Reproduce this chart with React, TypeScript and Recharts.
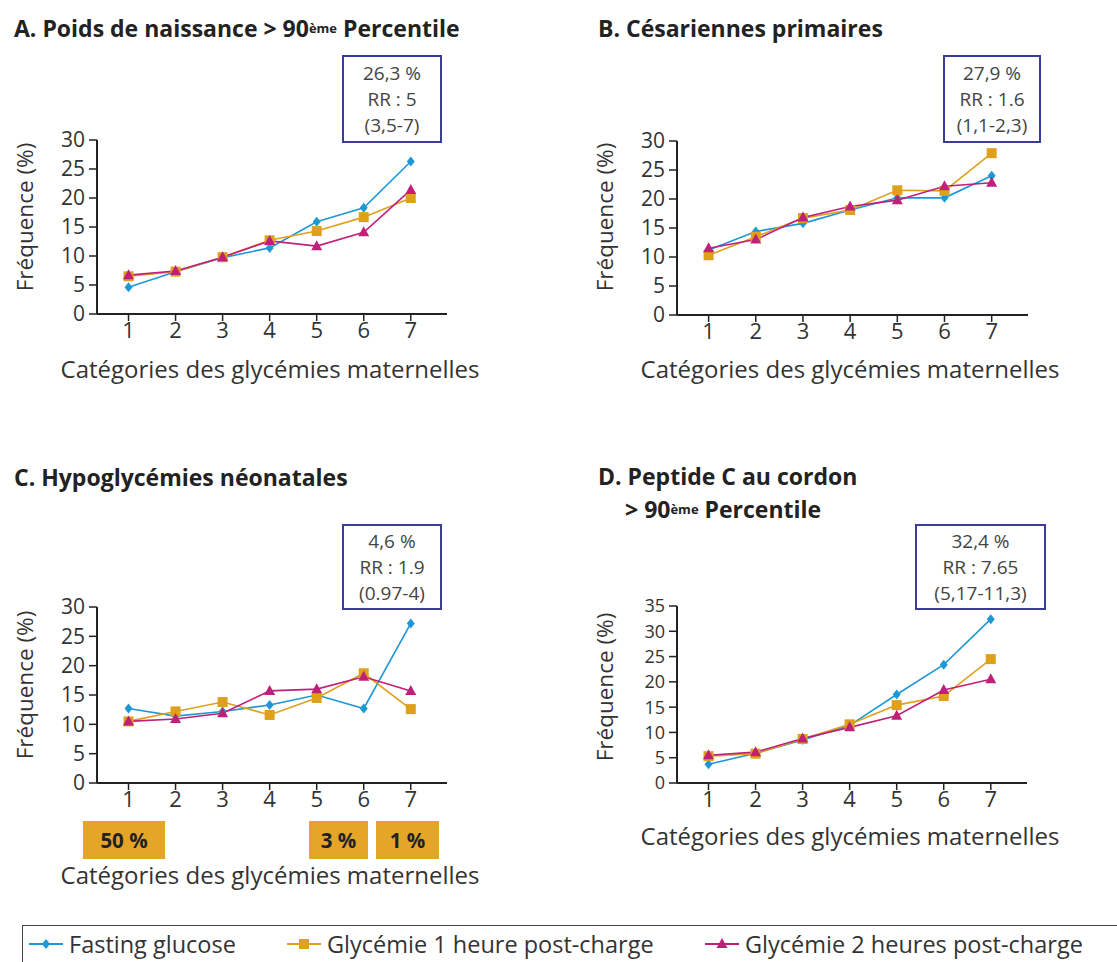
import React from "react";
import { LineChart, Line, XAxis, YAxis } from "recharts";

const categories = [1, 2, 3, 4, 5, 6, 7];

const aFasting = [4.6, 7.3, 9.7, 11.4, 15.9, 18.3, 26.3];
const a1h = [6.5, 7.3, 9.8, 12.7, 14.3, 16.7, 20.0];
const a2h = [6.7, 7.4, 9.8, 12.6, 11.7, 14.1, 21.4];

const bFasting = [11.2, 14.4, 15.8, 18.1, 20.2, 20.2, 24.0];
const b1h = [10.3, 13.5, 16.7, 18.1, 21.5, 21.4, 27.9];
const b2h = [11.5, 13.0, 16.8, 18.7, 19.8, 22.2, 22.8];

const cFasting = [12.7, 11.4, 12.2, 13.3, 15.0, 12.7, 27.2];
const c1h = [10.5, 12.2, 13.8, 11.6, 14.5, 18.7, 12.6];
const c2h = [10.5, 10.9, 11.9, 15.7, 16.0, 18.1, 15.7];

const dFasting = [3.7, 5.9, 8.5, 11.4, 17.5, 23.4, 32.4];
const d1h = [5.3, 5.8, 8.7, 11.6, 15.4, 17.2, 24.5];
const d2h = [5.5, 6.1, 8.8, 11.0, 13.3, 18.4, 20.5];

const ticks30 = [0, 5, 10, 15, 20, 25, 30];
const ticks35 = [0, 5, 10, 15, 20, 25, 30, 35];

const seriesNames = [
  "Fasting glucose",
  "Glycémie 1 heure post-charge",
  "Glycémie 2 heures post-charge",
];

const BLUE = "#1e98d4";
const ORANGE = "#dfa01e";
const MAGENTA = "#c0207a";
const FONT = "'Open Sans', 'DejaVu Sans', sans-serif";
const TEXT = "#333";

const build = (f: number[], h1: number[], h2: number[]) =>
  categories.map((c, i) => ({ x: c, f: f[i], h1: h1[i], h2: h2[i] }));

const Diamond = (props: any) => {
  const { cx, cy, index } = props;
  if (cx == null || cy == null) return <g key={index} />;
  return (
    <path
      key={index}
      d={`M${cx},${cy - 5} L${cx + 4},${cy} L${cx},${cy + 5} L${cx - 4},${cy} Z`}
      fill={BLUE}
    />
  );
};
const Square = (props: any) => {
  const { cx, cy, index } = props;
  if (cx == null || cy == null) return <g key={index} />;
  return <rect key={index} x={cx - 5} y={cy - 5} width={10} height={10} fill={ORANGE} />;
};
const Triangle = (props: any) => {
  const { cx, cy, index } = props;
  if (cx == null || cy == null) return <g key={index} />;
  return (
    <path
      key={index}
      d={`M${cx},${cy - 6} L${cx + 5.5},${cy + 4} L${cx - 5.5},${cy + 4} Z`}
      fill={MAGENTA}
    />
  );
};

type PanelProps = {
  left: number;
  top: number;
  width: number;
  height: number;
  data: any[];
  yMax: number;
  yTicks: number[];
  yFont: number;
};

const Panel = ({ left, top, width, height, data, yMax, yTicks, yFont }: PanelProps) => (
  <div style={{ position: "absolute", left, top }}>
    <LineChart
      width={width}
      height={height}
      data={data}
      margin={{ top: 20, right: 23, left: 0, bottom: 0 }}
    >
      <XAxis
        dataKey="x"
        type="number"
        domain={[0.33, 7.77]}
        ticks={categories}
        allowDataOverflow
        height={46}
        tickSize={7}
        tickMargin={1}
        axisLine={{ stroke: "#222", strokeWidth: 2 }}
        tickLine={{ stroke: "#222", strokeWidth: 1.5 }}
        tick={{ fill: TEXT, fontSize: 22, fontFamily: FONT }}
      />
      <YAxis
        type="number"
        domain={[0, yMax]}
        ticks={yTicks}
        width={97}
        tickSize={8}
        tickMargin={4}
        interval={0}
        axisLine={{ stroke: "#222", strokeWidth: 2 }}
        tickLine={{ stroke: "#222", strokeWidth: 1.5 }}
        tick={{ fill: TEXT, fontSize: yFont, fontFamily: FONT }}
      />
      <Line
        dataKey="f"
        name={seriesNames[0]}
        stroke={BLUE}
        strokeWidth={1.6}
        dot={Diamond}
        activeDot={false}
        isAnimationActive={false}
      />
      <Line
        dataKey="h1"
        name={seriesNames[1]}
        stroke={ORANGE}
        strokeWidth={1.6}
        dot={Square}
        activeDot={false}
        isAnimationActive={false}
      />
      <Line
        dataKey="h2"
        name={seriesNames[2]}
        stroke={MAGENTA}
        strokeWidth={1.6}
        dot={Triangle}
        activeDot={false}
        isAnimationActive={false}
      />
    </LineChart>
  </div>
);

const titleStyle: React.CSSProperties = {
  position: "absolute",
  fontFamily: FONT,
  fontWeight: 700,
  fontSize: 23,
  lineHeight: "28px",
  color: "#222",
  whiteSpace: "nowrap",
};

const Sup = () => (
  <span style={{ fontSize: 13, verticalAlign: "top", position: "relative", top: 0 }}>ème</span>
);

const Box = ({ left, top, width, height, lines }: any) => (
  <div
    style={{
      position: "absolute",
      left,
      top,
      width,
      height,
      boxSizing: "border-box",
      border: "2px solid #3b3b98",
      display: "flex",
      flexDirection: "column",
      justifyContent: "center",
      alignItems: "center",
      fontFamily: FONT,
      fontSize: 19,
      lineHeight: "26px",
      color: "#444",
      whiteSpace: "nowrap",
      background: "#fff",
    }}
  >
    {lines.map((l: string, i: number) => (
      <div key={i}>{l}</div>
    ))}
  </div>
);

const YLabel = ({ x, y }: any) => (
  <div
    style={{
      position: "absolute",
      left: x,
      top: y,
      transform: "translate(-50%, -50%) rotate(-90deg)",
      fontFamily: FONT,
      fontSize: 22.5,
      color: TEXT,
      whiteSpace: "nowrap",
    }}
  >
    Fréquence (%)
  </div>
);

const XLabel = ({ x, y }: any) => (
  <div
    style={{
      position: "absolute",
      left: x,
      top: y,
      transform: "translate(-50%, -50%)",
      fontFamily: FONT,
      fontSize: 24,
      color: TEXT,
      whiteSpace: "nowrap",
    }}
  >
    Catégories des glycémies maternelles
  </div>
);

const Tag = ({ left, width, text }: any) => (
  <div
    style={{
      position: "absolute",
      left,
      top: 821,
      width,
      height: 38,
      background: "#e5a628",
      display: "flex",
      alignItems: "center",
      justifyContent: "center",
      fontFamily: FONT,
      fontWeight: 700,
      fontSize: 20.5,
      color: "#222",
    }}
  >
    {text}
  </div>
);

const LegendIcon = ({ color, shape }: any) => (
  <svg width={34} height={14} style={{ display: "block" }}>
    <line x1={0} y1={7} x2={34} y2={7} stroke={color} strokeWidth={2} />
    {shape === "diamond" && <path d="M17,2 L21,7 L17,12 L13,7 Z" fill={color} />}
    {shape === "square" && <rect x={12} y={2} width={10} height={10} fill={color} />}
    {shape === "triangle" && <path d="M17,1 L22.5,11 L11.5,11 Z" fill={color} />}
  </svg>
);

const LegendItem = ({ left, color, shape, label }: any) => (
  <div
    style={{
      position: "absolute",
      left,
      top: 930,
      height: 28,
      display: "flex",
      alignItems: "center",
      gap: 6,
      fontFamily: FONT,
      fontSize: 23.5,
      color: TEXT,
      whiteSpace: "nowrap",
    }}
  >
    <LegendIcon color={color} shape={shape} />
    <span>{label}</span>
  </div>
);

export default function App() {
  return (
    <div
      style={{
        position: "absolute",
        left: 0,
        top: 0,
        width: 1117,
        height: 962,
        overflow: "hidden",
        background: "#fff",
      }}
    >
      <div style={{ ...titleStyle, left: 14, top: 14 }}>
        A. Poids de naissance &gt; 90<Sup /> Percentile
      </div>
      <div style={{ ...titleStyle, left: 598, top: 14 }}>B. Césariennes primaires</div>
      <div style={{ ...titleStyle, left: 14, top: 463 }}>C. Hypoglycémies néonatales</div>
      <div style={{ ...titleStyle, left: 598, top: 462 }}>D. Peptide C au cordon</div>
      <div style={{ ...titleStyle, left: 625, top: 495 }}>
        &gt; 90<Sup /> Percentile
      </div>

      <Panel left={0} top={120} width={470} height={240} data={build(aFasting, a1h, a2h)} yMax={30} yTicks={ticks30} yFont={21} />
      <Panel left={580} top={121} width={471} height={240} data={build(bFasting, b1h, b2h)} yMax={30} yTicks={ticks30} yFont={21} />
      <Panel left={0} top={587} width={470} height={242} data={build(cFasting, c1h, c2h)} yMax={30} yTicks={ticks30} yFont={21} />
      <Panel left={580} top={586} width={470} height={243} data={build(dFasting, d1h, d2h)} yMax={35} yTicks={ticks35} yFont={18} />

      <Box left={342} top={55} width={100} height={88} lines={["26,3 %", "RR : 5", "(3,5-7)"]} />
      <Box left={943} top={55} width={98} height={88} lines={["27,9 %", "RR : 1.6", "(1,1-2,3)"]} />
      <Box left={342} top={524} width={100} height={86} lines={["4,6 %", "RR : 1.9", "(0.97-4)"]} />
      <Box left={915} top={524} width={131} height={86} lines={["32,4 %", "RR : 7.65", "(5,17-11,3)"]} />

      <YLabel x={24} y={217} />
      <YLabel x={604} y={217} />
      <YLabel x={24} y={685} />
      <YLabel x={604} y={687} />

      <XLabel x={270} y={368} />
      <XLabel x={850} y={368} />
      <XLabel x={270} y={874} />
      <XLabel x={850} y={835} />

      <Tag left={83} width={82} text="50 %" />
      <Tag left={309} width={59} text="3 %" />
      <Tag left={376} width={63} text="1 %" />

      <div
        style={{
          position: "absolute",
          left: 22,
          top: 925,
          width: 1120,
          height: 60,
          border: "1.5px solid #444",
          boxSizing: "border-box",
        }}
      />
      <LegendItem left={29} color={BLUE} shape="diamond" label={seriesNames[0]} />
      <LegendItem left={287} color={ORANGE} shape="square" label={seriesNames[1]} />
      <LegendItem left={705} color={MAGENTA} shape="triangle" label={seriesNames[2]} />
    </div>
  );
}
